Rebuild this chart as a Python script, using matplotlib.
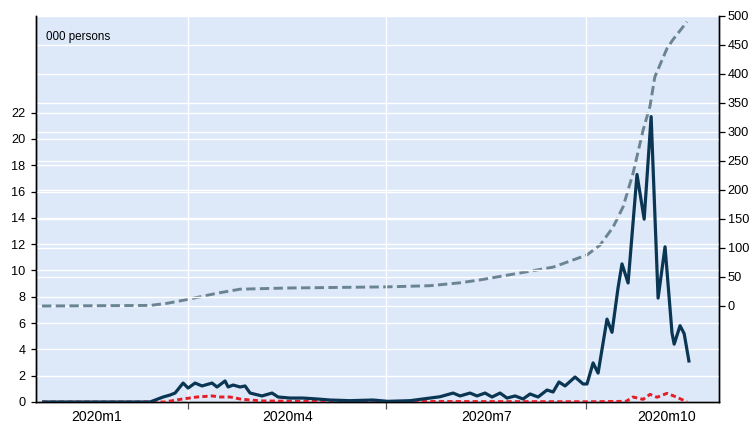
import matplotlib
matplotlib.use("Agg")
import matplotlib.pyplot as plt

# x values are day-of-year 2020 (0 = 1 Jan)
dark_days = [23.7, 73.4, 79.4, 82.6, 84.9, 88.6, 90.9, 94.1, 97.3, 101.9, 104.2,
             107.9, 109.3, 111.6, 114.8, 117.1, 119.4, 124.9, 129.5, 132.3, 137.8,
             143.7, 150.2, 156.2, 165.4, 175.9, 182.8, 193.0, 197.6, 206.8, 212.8,
             216.0, 220.6, 223.8, 227.5, 230.7, 234.4, 237.6, 241.3, 245.0, 248.2,
             251.9, 256.0, 258.8, 261.5, 264.3, 268.9, 272.6, 274.4, 277.2, 279.5,
             283.6, 285.9, 288.7, 290.5, 293.3, 297.4, 300.7, 303.9, 307.1, 310.3,
             313.5, 314.5, 317.2, 319.1, 321.4]
dark_vals = [0.0, 0.0, 0.38, 0.53, 0.68, 1.44, 1.06, 1.44, 1.22, 1.44, 1.14,
             1.6, 1.14, 1.29, 1.14, 1.22, 0.68, 0.46, 0.68, 0.38, 0.3,
             0.3, 0.23, 0.15, 0.1, 0.15, 0.05, 0.1, 0.2, 0.4, 0.68,
             0.46, 0.68, 0.46, 0.68, 0.38, 0.68, 0.3, 0.46, 0.23, 0.61,
             0.38, 0.91, 0.76, 1.52, 1.22, 1.9, 1.37, 1.37, 2.97, 2.2,
             6.3, 5.3, 8.7, 10.5, 9.05, 17.3, 13.9, 21.7, 7.9, 11.8,
             5.25, 4.4, 5.8, 5.2, 3.0]

red_days = [23.7, 80.3, 87.2, 95.0, 101.9, 105.6, 110.2, 114.8, 119.4, 125.4,
            142.4, 275.8, 292.4, 295.6, 300.2, 303.4, 306.6, 311.2, 315.8, 320.4]
red_vals = [0.0, 0.0, 0.2, 0.38, 0.46, 0.38, 0.38, 0.23, 0.15, 0.08,
            0.05, 0.02, 0.05, 0.38, 0.2, 0.58, 0.36, 0.66, 0.36, 0.0]

grey_days = [23.7, 73.4, 81.2, 90.9, 104.2, 114.8, 136.4, 182.4, 202.2, 216.0,
             225.2, 243.6, 258.8, 274.4, 280.4, 286.4, 291.0, 295.6, 300.2, 303.4,
             305.6, 311.2, 313.9, 320.4]
grey_vals = [0, 1, 4.6, 11.5, 22, 29, 31, 33, 35, 40,
             45, 57, 67, 88, 105, 136, 171, 229, 303, 345,
             395, 444, 459, 490]

quarter_ticks = [91, 182, 274]
label_pos = [48.9, 136.5, 228.0, 310.8]
label_txt = ["2020m1", "2020m4", "2020m7", "2020m10"]
left_ticks = list(range(0, 23, 2))
right_ticks = list(range(0, 501, 50))

bg = "#DDE8F9"
dark_c = "#0A3653"
red_c = "#E41E26"
grey_c = "#6B8493"

plt.rcParams["font.family"] = ["Liberation Sans", "DejaVu Sans"]

fig = plt.figure(figsize=(7.49, 4.24), dpi=100)
ax = fig.add_axes([0.0477, 0.0519, 0.9116, 0.9104])
ax2 = ax.twinx()

# right axis sits behind, carries the background
ax.set_zorder(ax2.get_zorder() + 1)
ax.patch.set_visible(False)
ax2.patch.set_visible(True)
ax2.patch.set_facecolor(bg)

ax2.plot(grey_days, grey_vals, color=grey_c, lw=2.1, dashes=(3.2, 1.5),
         dash_capstyle="butt", dash_joinstyle="round", zorder=3)
ax.plot(red_days, red_vals, color=red_c, lw=2.1, dashes=(1.8, 1.1),
        dash_capstyle="butt", dash_joinstyle="round", zorder=3)
ax.plot(dark_days, dark_vals, color=dark_c, lw=2.3, zorder=4,
        solid_joinstyle="round", solid_capstyle="butt")

ax.set_xlim(20.8, 334.9)
ax.set_ylim(0, 29.35)
ax2.set_ylim(-165.5, 500)

ax.set_yticks(left_ticks)
ax2.set_yticks(right_ticks)
ax.set_xticks(quarter_ticks)
ax.set_xticklabels([])
ax.set_xticks(label_pos, minor=True)
ax.set_xticklabels(label_txt, minor=True, fontsize=10.2)

ax.tick_params(axis="x", which="major", length=5, width=0.9, color="#555555")
ax.tick_params(axis="x", which="minor", length=0, pad=6)
ax.tick_params(axis="y", length=3.5, width=0.9, pad=4, labelsize=9.2)
ax2.tick_params(axis="y", length=4, width=0.9, pad=2.5, labelsize=9.2)

# grids: white lines
ax.grid(True, axis="y", color="white", lw=1.0)
ax.grid(True, axis="x", which="major", color="white", lw=1.0)
ax2.grid(True, axis="y", color="white", lw=1.0)
ax2.grid(True, axis="x", which="major", color="white", lw=1.0)
ax.set_axisbelow(True)
ax2.set_axisbelow(True)

for a in (ax, ax2):
    a.spines["top"].set_visible(False)
    for s in ("left", "right", "bottom"):
        a.spines[s].set_linewidth(1.0)
        a.spines[s].set_color("black")

ax.text(0.0146, 0.946, "000 persons", transform=ax.transAxes,
        fontsize=8.4, va="center", ha="left")

fig.savefig("out.png", dpi=100)
